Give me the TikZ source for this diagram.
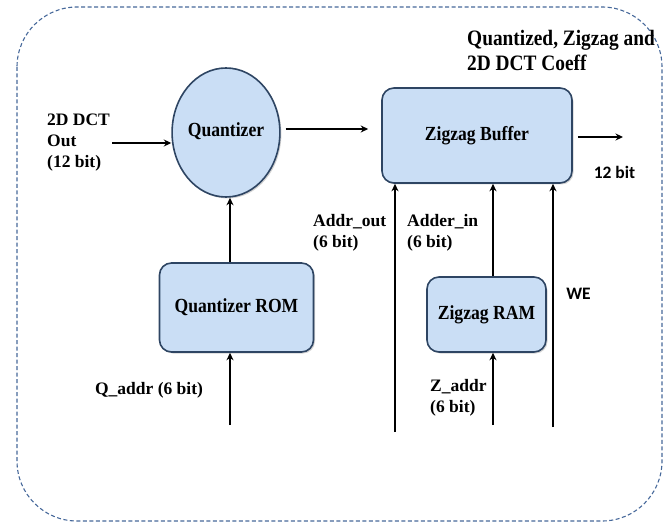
\documentclass[tikz,border=0pt]{standalone}
\usepackage{fontspec}
\setmainfont{Liberation Serif}
\newfontfamily\blkfont[FakeStretch=0.88]{Liberation Serif}
\newfontfamily\wefont{Carlito}
\usetikzlibrary{arrows.meta,shapes.geometric,shadows}
\definecolor{boxfill}{HTML}{CADEF5}
\definecolor{boxline}{HTML}{2E4563}
\definecolor{outerline}{HTML}{46689A}
\tikzset{
  lbl/.style={font=\fontsize{17.5}{21}\selectfont\bfseries, inner sep=0pt, align=left},
  sanslbl/.style={font=\wefont\fontsize{17.5}{21}\selectfont\bfseries, inner sep=0pt},
  blk/.style={draw=boxline, fill=boxfill, line width=1.6pt, rounded corners=12pt,
    drop shadow={shadow xshift=1.5pt, shadow yshift=-1.5pt, opacity=0.35},
    font=\blkfont\fontsize{20}{22}\selectfont\bfseries, inner sep=0pt},
  arr/.style={-{Stealth[length=7.5pt,width=7pt]}, line width=1.8pt},
}
\begin{document}
\begin{tikzpicture}[x=1pt,y=-1pt]
\useasboundingbox (0,0) rectangle (667,524);
\draw[outerline, dash pattern=on 4pt off 2.5pt, line width=1.1pt, rounded corners=60pt] (17,7) rectangle (662,521);

\node[blk, ellipse, minimum width=102pt, minimum height=129pt] (q) at (226,132.5) {\raisebox{6pt}{Quantizer}};
\node[blk, minimum width=190pt, minimum height=95pt] (zb) at (477,135.5) {Zigzag Buffer};
\node[blk, minimum width=154pt, minimum height=89pt] (rom) at (236.5,307.5) {Quantizer ROM};
\node[blk, minimum width=119pt, minimum height=75pt] (ram) at (486.5,314.5) {Zigzag RAM};

% labels
\node[lbl, anchor=west] (lin) at (47,143) {2D DCT\\Out\\(12 bit)};
\node[lbl, anchor=west, font=\blkfont\fontsize{22}{25}\selectfont\bfseries] (lout) at (467,50) {Quantized, Zigzag and\\2D DCT Coeff};
\node[sanslbl] (l12) at (614.5,172.5) {12 bit};
\node[lbl, anchor=west] (laddr) at (313,233) {Addr\_out\\(6 bit)};
\node[lbl, anchor=west] (lain) at (407,233) {Adder\_in\\(6 bit)};
\node[sanslbl] (lwe) at (578.5,294) {WE};
\node[lbl] (lq) at (149,390) {Q\_addr (6 bit)};
\node[lbl, anchor=west] (lz) at (430,398) {Z\_addr\\(6 bit)};

% coordinates
\coordinate (inS) at (112,143);
\coordinate (qzy) at (0,129);
\coordinate (outE) at (623,137);
\coordinate (qx) at (230,0);
\coordinate (qaS) at (230,425);
\coordinate (aoS) at (395,432);
\coordinate (aix) at (493,0);
\coordinate (weS) at (553,427);
\coordinate (zaS) at (493,425);

\draw[arr] (inS) -- (inS -| q.west);
\draw[arr, shorten <=5pt, shorten >=13pt] (q.east |- qzy) -- (zb.west |- qzy);
\draw[arr, shorten <=5pt] (zb.east |- outE) -- (outE);
\draw[arr] (rom.north -| qx) -- (q.south -| qx);
\draw[arr] (qaS) -- (qaS |- rom.south);
\draw[arr] (aoS) -- (aoS |- zb.south);
\draw[arr] (ram.north -| aix) -- (zb.south -| aix);
\draw[arr] (weS) -- (weS |- zb.south);
\draw[arr] (zaS) -- (zaS |- ram.south);
\end{tikzpicture}
\end{document}
